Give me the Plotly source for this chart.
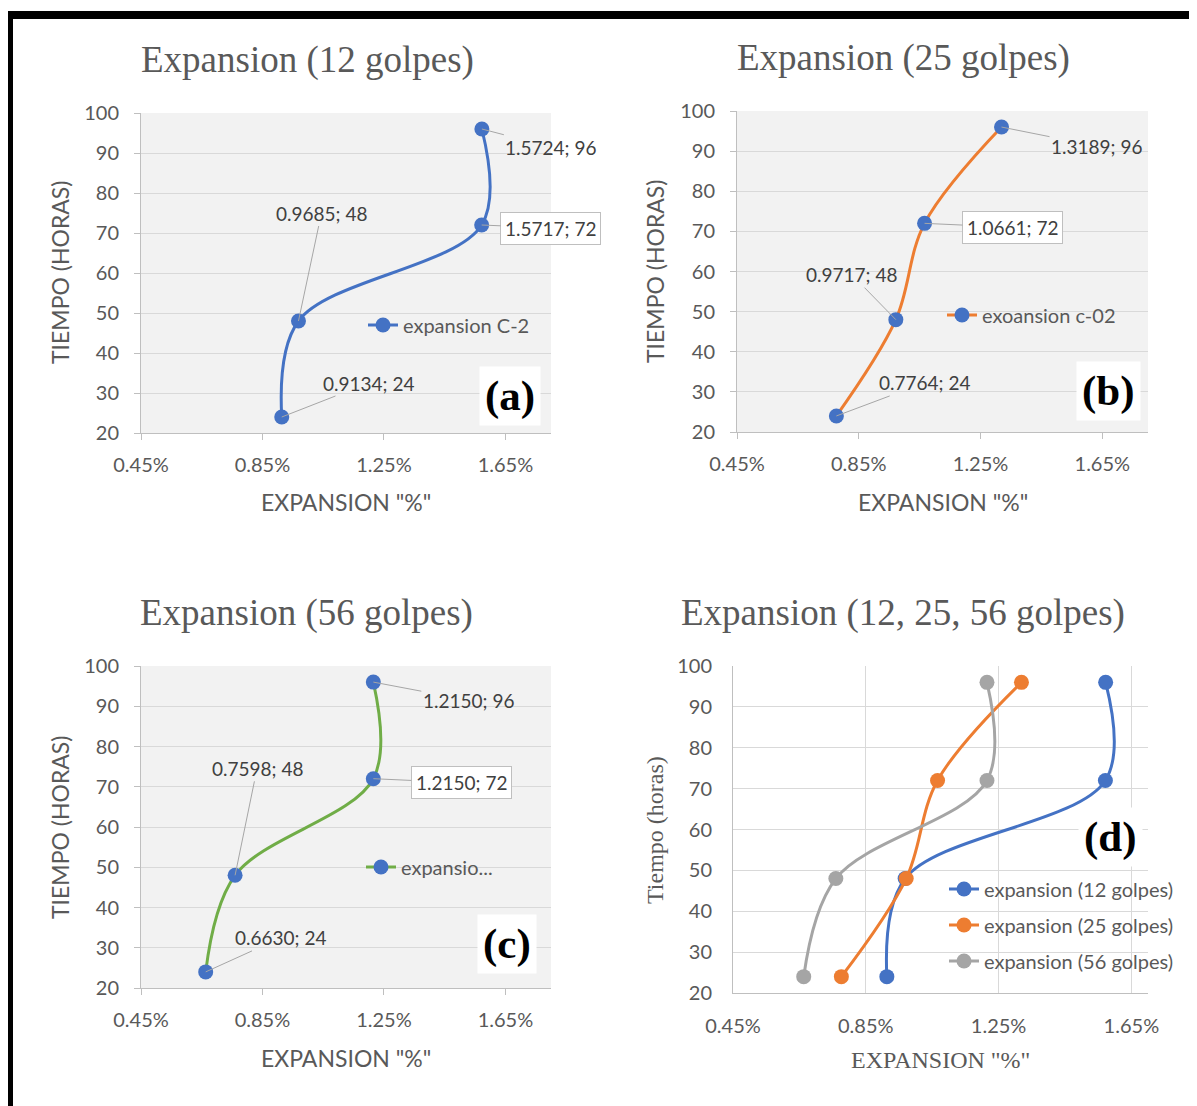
import plotly.graph_objects as go

# data
hours = [24, 48, 72, 96]
exp_12 = [0.9134, 0.9685, 1.5717, 1.5724]
exp_25 = [0.7764, 0.9717, 1.0661, 1.3189]
exp_56 = [0.6630, 0.7598, 1.2150, 1.2150]

x_ticks = [0.45, 0.85, 1.25, 1.65]
x_ticktext = ["0.45%", "0.85%", "1.25%", "1.65%"]
y_ticks = [20, 30, 40, 50, 60, 70, 80, 90, 100]

W, H = 1197, 1106
BLUE, ORANGE, GREY, GREEN = "#4472C4", "#ED7D31", "#A5A5A5", "#70AD47"
TXT = "#595959"
SANS = "Lato"
SERIF = "Liberation Serif"
OFF = 8  # page body margin


def px(x):
    return (x - OFF) / W


def py(y):
    return 1 - (y - OFF) / H


fig = go.Figure()

# panel geometry in pixels: (left, right, top, bottom)
panels = {
    "a": dict(xa="x", ya="y", box=(141, 551, 113, 433), xmax=1.8),
    "b": dict(xa="x2", ya="y2", box=(737, 1148, 111, 432), xmax=1.8),
    "c": dict(xa="x3", ya="y3", box=(141, 551, 666, 988), xmax=1.8),
    "d": dict(xa="x4", ya="y4", box=(733, 1148, 666, 993), xmax=1.70),
}

line_w = 3
msize = 15

# (a)
fig.add_trace(go.Scatter(x=exp_12, y=hours, xaxis="x", yaxis="y", name="expansion C-2",
                         mode="lines+markers", line=dict(color=BLUE, width=line_w, shape="spline", smoothing=1),
                         marker=dict(color=BLUE, size=msize), legend="legend"))
# (b)
fig.add_trace(go.Scatter(x=exp_25, y=hours, xaxis="x2", yaxis="y2", name="exoansion c-02",
                         mode="lines+markers", line=dict(color=ORANGE, width=line_w, shape="spline", smoothing=1),
                         marker=dict(color=BLUE, size=msize), legend="legend2"))
# (c)
fig.add_trace(go.Scatter(x=exp_56, y=hours, xaxis="x3", yaxis="y3", name="expansio...",
                         mode="lines+markers", line=dict(color=GREEN, width=line_w, shape="spline", smoothing=1),
                         marker=dict(color=BLUE, size=msize), legend="legend3"))
# (d)
for vals, col, nm in [(exp_12, BLUE, "expansion (12 golpes)"),
                      (exp_25, ORANGE, "expansion (25 golpes)"),
                      (exp_56, GREY, "expansion (56 golpes)")]:
    fig.add_trace(go.Scatter(x=vals, y=hours, xaxis="x4", yaxis="y4", name=nm, legendgroup=nm,
                             mode="lines+markers", line=dict(color=col, width=line_w, shape="spline", smoothing=1),
                             marker=dict(color=col, size=msize), legend="legend4"))

layout = dict(width=W, height=H, margin=dict(l=0, r=0, t=0, b=0, autoexpand=False),
              paper_bgcolor="white", plot_bgcolor="white", showlegend=True)

shapes = []
annotations = []

for key, p in panels.items():
    l, r, t, b = p["box"]
    xname = "xaxis" + p["xa"][1:]
    yname = "yaxis" + p["ya"][1:]
    is_d = key == "d"
    layout[xname] = dict(domain=[px(l), px(r)], anchor=p["ya"], range=[0.45, p["xmax"]],
                         tickvals=x_ticks, ticktext=x_ticktext, showgrid=is_d, gridcolor="#d9d9d9",
                         showline=True, linecolor="#bfbfbf", linewidth=1, zeroline=False,
                         ticks="" if is_d else "outside", ticklen=6, tickcolor="#bfbfbf",
                         ticklabelstandoff=8 if not is_d else 15, automargin=False,
                         tickfont=dict(family=SANS, size=20, color=TXT), fixedrange=True)
    layout[yname] = dict(domain=[py(b), py(t)], anchor=p["xa"], range=[20, 100], tickvals=y_ticks,
                         showgrid=True, gridcolor="#d9d9d9", gridwidth=1,
                         showline=True, linecolor="#bfbfbf", linewidth=1, zeroline=False,
                         ticks="" if is_d else "outside", ticklen=6, tickcolor="#bfbfbf",
                         ticklabelstandoff=11 if not is_d else 16, automargin=False,
                         tickfont=dict(family=SANS, size=20, color=TXT), fixedrange=True)
    if not is_d:
        shapes.append(dict(type="rect", xref=p["xa"] + " domain", yref=p["ya"] + " domain",
                           x0=0, x1=1, y0=0, y1=1, fillcolor="#f2f2f2", line=dict(width=0), layer="below"))

# chart titles
titles = [("Expansion (12 golpes)", 307, 60), ("Expansion (25 golpes)", 903, 58),
          ("Expansion (56 golpes)", 306, 613), ("Expansion (12, 25, 56 golpes)", 903, 613)]
for txt, x, y in titles:
    annotations.append(dict(text=txt, x=px(x), y=py(y), xref="paper", yref="paper", showarrow=False,
                            xanchor="center", yanchor="middle",
                            font=dict(family=SERIF, size=37, color=TXT)))

# axis titles
for txt, x, y, fam, sz in [("TIEMPO (HORAS)", 60, 273, SANS, 23), ("TIEMPO (HORAS)", 655, 272, SANS, 23),
                           ("TIEMPO (HORAS)", 60, 828, SANS, 23), ("Tiempo (horas)", 655, 830, SERIF, 24)]:
    annotations.append(dict(text=txt, x=px(x), y=py(y), xref="paper", yref="paper", showarrow=False,
                            textangle=-90, xanchor="center", yanchor="middle",
                            font=dict(family=fam, size=sz, color=TXT)))
for txt, x, y, fam, sz in [('EXPANSION "%"', 346, 502, SANS, 23), ('EXPANSION "%"', 943, 502, SANS, 23),
                           ('EXPANSION "%"', 346, 1058, SANS, 23), ('EXPANSION "%"', 940, 1060, SERIF, 24)]:
    annotations.append(dict(text=txt, x=px(x), y=py(y), xref="paper", yref="paper", showarrow=False,
                            xanchor="center", yanchor="middle",
                            font=dict(family=fam, size=sz, color=TXT)))

# data labels with leader lines: (ax, ay, boxed) per point
label_style = {
    "a": [(87, -34, False), (23, -108, False), (69, 3, True), (69, 18, False)],
    "b": [(88, -33, False), (-44, -45, False), (88, 4, True), (95, 19, False)],
    "c": [(75, -34, False), (22, -107, False), (88, 4, True), (95, 18, False)],
}
series = {"a": exp_12, "b": exp_25, "c": exp_56}
for key, vals in series.items():
    p = panels[key]
    for xv, yv, (ax, ay, boxed) in zip(vals, hours, label_style[key]):
        ann = dict(text=f"{xv:.4f}; {yv}", x=xv, y=yv, xref=p["xa"], yref=p["ya"],
                   showarrow=True, arrowhead=0, arrowwidth=1, arrowcolor="#a6a6a6", standoff=0,
                   ax=ax, ay=ay, axref="pixel", ayref="pixel",
                   font=dict(family=SANS, size=19, color="#404040"))
        if boxed:
            ann.update(bgcolor="white", bordercolor="#bfbfbf", borderwidth=1, borderpad=4)
        annotations.append(ann)

# panel letters
for txt, x, y in [("(a)", 510, 396), ("(b)", 1108, 391), ("(c)", 507, 944), ("(d)", 1110, 837)]:
    annotations.append(dict(text=f"<b>{txt}</b>", x=px(x), y=py(y), xref="paper", yref="paper",
                            showarrow=False, xanchor="center", yanchor="middle", bgcolor="white",
                            borderpad=5, font=dict(family=SERIF, size=43, color="black")))

# legends
leg_font = dict(family=SANS, size=20, color=TXT)
layout["legend"] = dict(x=px(363), y=py(325), xanchor="left", yanchor="middle", bgcolor="rgba(0,0,0,0)", font=leg_font)
layout["legend2"] = dict(x=px(942), y=py(315), xanchor="left", yanchor="middle", bgcolor="rgba(0,0,0,0)", font=leg_font)
layout["legend3"] = dict(x=px(361), y=py(867), xanchor="left", yanchor="middle", bgcolor="rgba(0,0,0,0)", font=leg_font)
layout["legend4"] = dict(x=px(944), y=py(925), xanchor="left", yanchor="middle", bgcolor="rgba(0,0,0,0)",
                         font=leg_font, tracegroupgap=7)

# black frame (top and left edges)
shapes.append(dict(type="rect", xref="paper", yref="paper", x0=px(6), x1=1, y0=py(19), y1=py(11),
                   fillcolor="black", line=dict(width=0)))
shapes.append(dict(type="rect", xref="paper", yref="paper", x0=px(6), x1=px(13), y0=0, y1=py(11),
                   fillcolor="black", line=dict(width=0)))

layout["shapes"] = shapes
layout["annotations"] = annotations
fig.update_layout(**layout)

fig.write_html("out.html")
